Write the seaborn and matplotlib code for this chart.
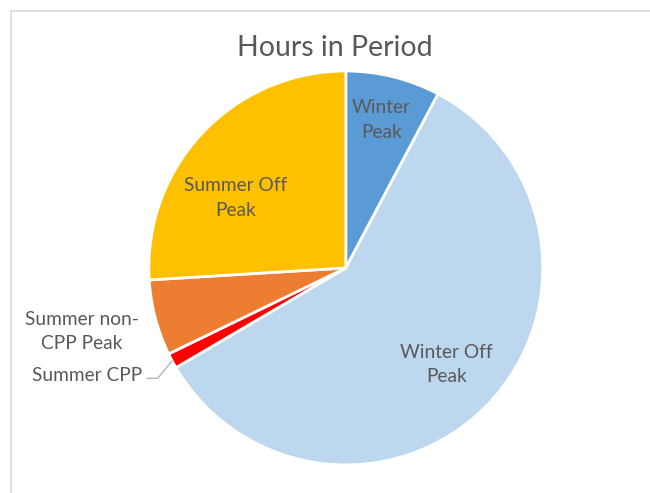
import matplotlib.pyplot as plt
import numpy as np
import seaborn as sns

# hours per tariff period (~8760 h total)
periods = ["Winter Peak", "Winter Off Peak", "Summer CPP", "Summer non-CPP Peak", "Summer Off Peak"]
hours = [680, 5150, 110, 545, 2275]
colors = ["#5B9BD5", "#BDD7EE", "#FF0000", "#ED7D31", "#FFC000"]
label_text = ["Winter\nPeak", "Winter Off\nPeak", "Summer CPP", "Summer non-\nCPP Peak", "Summer Off\nPeak"]

sns.set_theme(style="white")
plt.rcParams["font.family"] = ["Lato", "DejaVu Sans"]
text_color = "#595959"
fs = 13.8

fig = plt.figure(figsize=(6.5, 4.93), dpi=100)
ax = fig.add_axes([0.229, 0.057, 0.606, 0.799])

wedges, _ = ax.pie(
    hours,
    colors=sns.color_palette(colors),
    startangle=90,
    counterclock=False,
    wedgeprops=dict(edgecolor="white", linewidth=2),
)
ax.set_xlim(-1, 1)
ax.set_ylim(-1, 1)
ax.set_aspect("equal")

# label positions inside the pie (unit radius)
inside = {
    "Winter Peak": (0.18, 0.75),
    "Winter Off Peak": (0.51, -0.49),
    "Summer Off Peak": (-0.56, 0.355),
}
for name, txt in zip(periods, label_text):
    if name in inside:
        x, y = inside[name]
        ax.text(x, y, txt, ha="center", va="center",
                fontsize=fs, color=text_color, linespacing=1.55)

# outside labels
ax.text(-1.34, -0.325, label_text[3], ha="center", va="center",
        fontsize=fs, color=text_color, linespacing=1.5)

w_cpp = wedges[2]
ang = np.deg2rad((w_cpp.theta1 + w_cpp.theta2) / 2)
ex, ey = np.cos(ang), np.sin(ang)
ax.plot([-1.01, -0.955, ex], [-0.56, -0.56, ey], color="#A6A6A6", lw=0.8, clip_on=False)
ax.text(-1.035, -0.548, label_text[2], ha="right", va="center",
        fontsize=fs, color=text_color)

fig.text(0.515, 0.902, "Hours in Period", ha="center", va="center",
         fontsize=20.5, color=text_color)

# chart frame
fig.add_artist(plt.Line2D([0.0162, 0.0162], [0, 0.978], color="#D9D9D9", lw=1.2))
fig.add_artist(plt.Line2D([0.0162, 1], [0.978, 0.978], color="#D9D9D9", lw=1.2))

fig.savefig("out.png", dpi=100)
